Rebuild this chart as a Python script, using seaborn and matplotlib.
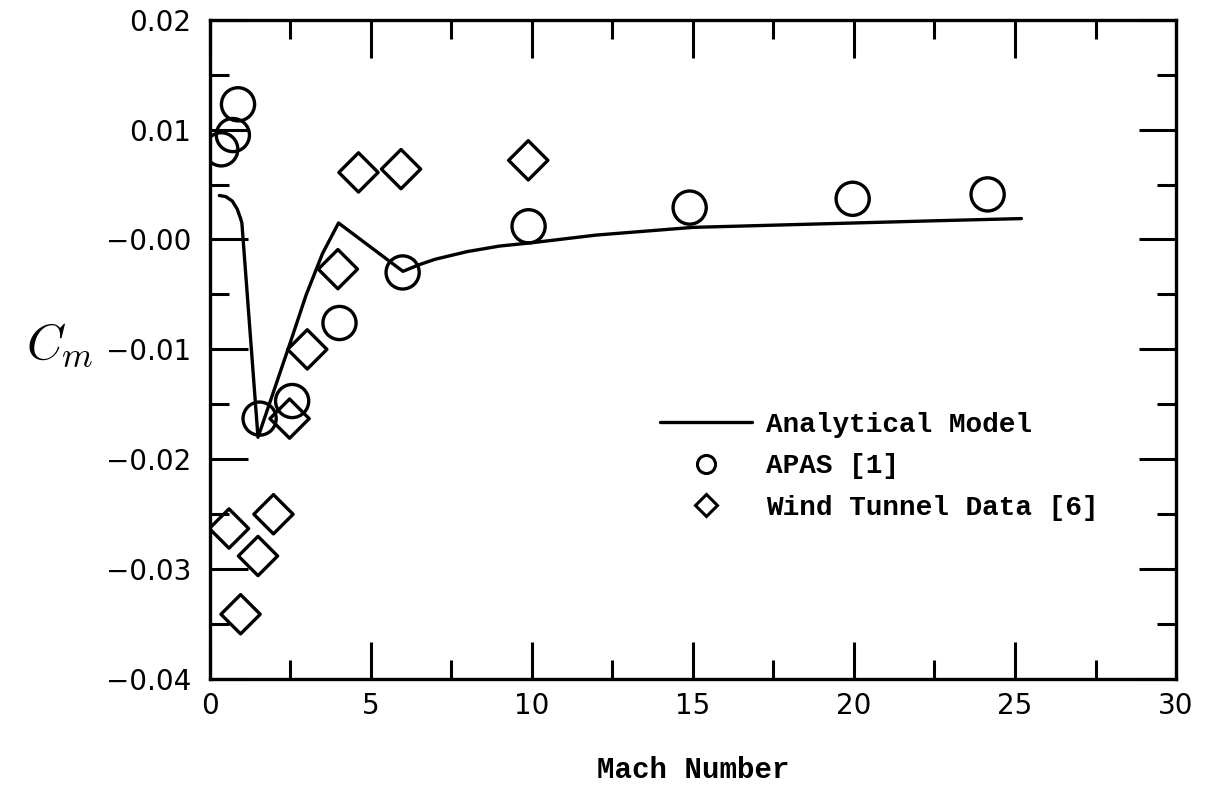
import numpy as np
import pandas as pd
import seaborn as sns
import matplotlib.pyplot as plt
from matplotlib.lines import Line2D
from matplotlib.ticker import FixedLocator, MultipleLocator

# ----------- Data -----------------------------------------

model_mach = [0.3, 0.5, 0.7, 0.85, 0.95, 1.0, 1.5, 2.0, 2.5, 3.0, 3.5, 4.0, 6.0,
              6.5, 7.0, 8.0, 9.0, 10.0, 12.0, 15.0, 17.5, 20.0, 22.5, 25.2]
model_cm = [0.0040, 0.0039, 0.0035, 0.0028, 0.0020, 0.0015, -0.0180, -0.0137,
            -0.0094, -0.0050, -0.0013, 0.0015, -0.0029, -0.0023, -0.0018, -0.0011,
            -0.0006, -0.0003, 0.0004, 0.0011, 0.0013, 0.0015, 0.0017, 0.0019]

apas_mach = [0.36, 0.72, 0.88, 1.55, 2.56, 4.03, 5.99, 9.9, 14.9, 19.96, 24.15]
apas_cm = [0.0082, 0.0095, 0.0123, -0.0163, -0.0147, -0.0076, -0.0030, 0.0012,
           0.0029, 0.0037, 0.0041]

wt_mach = [0.6, 0.96, 1.5, 1.98, 2.48, 3.03, 3.98, 4.62, 5.94, 9.89]
wt_cm = [-0.0263, -0.0341, -0.0288, -0.0250, -0.0163, -0.0100, -0.0027, 0.0061,
         0.0064, 0.0072]

y_ticks = [-0.04, -0.03, -0.02, -0.01, 0.0, 0.01, 0.02]
y_tick_labels = ["\u22120.04", "\u22120.03", "\u22120.02", "\u22120.01", "\u22120.00", "0.01", "0.02"]
x_ticks = [0, 5, 10, 15, 20, 25, 30]

model_df = pd.DataFrame({"mach": model_mach, "cm": model_cm})
apas_df = pd.DataFrame({"mach": apas_mach, "cm": apas_cm})
wt_df = pd.DataFrame({"mach": wt_mach, "cm": wt_cm})

# ----------- Build Chart ---------------------

sns.set_theme(style="ticks")
plt.rcParams["mathtext.fontset"] = "cm"
plt.rcParams["font.family"] = ["DejaVu Sans"]
plt.rcParams["text.color"] = "black"
plt.rcParams["axes.labelcolor"] = "black"

fig = plt.figure(figsize=(12.05, 7.86), dpi=100)
ax = fig.add_axes([0.174, 0.136, 0.802, 0.839])

sns.lineplot(data=model_df, x="mach", y="cm", sort=False, estimator=None,
             color="black", linewidth=2.4, ax=ax)
sns.scatterplot(data=apas_df, x="mach", y="cm", marker="o", s=570,
                facecolors="none", edgecolor="black", linewidth=2.4, ax=ax)
sns.scatterplot(data=wt_df, x="mach", y="cm", marker="D", s=400,
                facecolors="none", edgecolor="black", linewidth=2.4, ax=ax)

ax.set_xlim(0, 30)
ax.set_ylim(-0.04, 0.02)
ax.xaxis.set_major_locator(FixedLocator(x_ticks))
ax.xaxis.set_minor_locator(MultipleLocator(2.5))
ax.yaxis.set_major_locator(FixedLocator(y_ticks))
ax.yaxis.set_minor_locator(MultipleLocator(0.005))
ax.set_yticklabels(y_tick_labels)
ax.set_xticklabels([str(t) for t in x_ticks])

ax.tick_params(which="both", direction="in", top=True, right=True,
               width=2.2, color="black", labelsize=20, labelcolor="black")
ax.tick_params(which="major", length=27)
ax.tick_params(axis="y", which="major", pad=13)
ax.tick_params(axis="x", which="major", pad=9)
ax.tick_params(which="minor", length=14)
for side in ax.spines.values():
    side.set_linewidth(2.4)
    side.set_color("black")

ax.set_xlabel("Mach Number", fontsize=21, family="Liberation Mono",
              fontweight="bold", labelpad=26)
ax.set_ylabel("$C_m$", fontsize=36, rotation=0)
ax.yaxis.set_label_coords(-0.155, 0.47)

handles = [
    Line2D([], [], color="black", linewidth=2.4),
    Line2D([], [], color="black", marker="o", markersize=13, markerfacecolor="none",
           markeredgewidth=2.2, linestyle="none"),
    Line2D([], [], color="black", marker="D", markersize=11, markerfacecolor="none",
           markeredgewidth=2.2, linestyle="none"),
]
labels = ["Analytical Model", "APAS [1]", "Wind Tunnel Data [6]"]
ax.legend(handles, labels, loc="upper left", bbox_to_anchor=(0.466, 0.405),
          frameon=False, borderpad=0, borderaxespad=0, handlelength=3.3,
          handletextpad=0.5, labelspacing=0.55,
          prop={"family": "Liberation Mono", "weight": "bold", "size": 20})

plt.savefig("out.png", dpi=100)
